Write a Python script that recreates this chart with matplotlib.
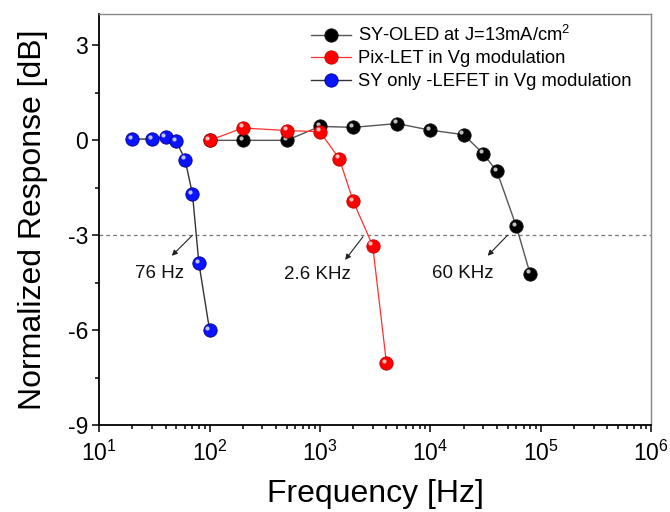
import matplotlib
matplotlib.use("Agg")
import matplotlib.pyplot as plt
import matplotlib.transforms as mtransforms
from matplotlib.ticker import FixedLocator, LogLocator, NullFormatter

plt.rcParams["font.family"] = ["Liberation Sans", "DejaVu Sans"]
plt.rcParams["mathtext.fontset"] = "custom"
plt.rcParams["mathtext.rm"] = "Liberation Sans"
plt.rcParams["mathtext.it"] = "Liberation Sans"
plt.rcParams["axes.unicode_minus"] = False

# frequency response data (Hz, dB)
oled_freq = [100, 200, 500, 1000, 2000, 5000, 1e4, 2e4, 3e4, 4e4, 6e4, 8e4]
oled_db = [0.0, 0.0, 0.0, 0.44, 0.41, 0.53, 0.32, 0.18, -0.42, -0.98, -2.72, -4.22]

pixlet_freq = [100, 200, 500, 1000, 1500, 2000, 3000, 4000]
pixlet_db = [0.0, 0.39, 0.31, 0.27, -0.59, -1.93, -3.33, -7.05]

lefet_freq = [20, 30, 40, 50, 60, 70, 80, 100]
lefet_db = [0.04, 0.04, 0.10, -0.03, -0.61, -1.70, -3.88, -6.0]

labels = ["SY-OLED at J=13mA/cm$^{2}$", "Pix-LET in Vg modulation",
          "SY only -LEFET in Vg modulation"]

# -3 dB cutoff annotations: (text, arrow start, arrow end, text centre)
cutoffs = [
    ("76 Hz", (70, -3.0), (45.5, -3.65), (35, -4.22)),
    ("2.6 KHz", (2450, -3.05), (1690, -3.78), (950, -4.25)),
    ("60 KHz", (50000, -3.0), (33000, -3.65), (19700, -4.21)),
]

fig = plt.figure(figsize=(6.7, 5.12), dpi=100)
ax = fig.add_axes([0.148, 0.170, 0.824, 0.803])


def ball_series(x, y, line_col, face, edge, lw, label, z):
    line, = ax.plot(x, y, color=line_col, lw=lw, marker="o", ms=9.6,
                    mfc=face, mec=edge, mew=0.6, label=label, zorder=z)
    # small specular highlight to mimic the shaded spheres
    hl = mtransforms.offset_copy(ax.transData, fig=fig, x=-1.6, y=1.8, units="points")
    ax.plot(x, y, ls="none", marker="o", ms=3.0, mfc="white", mec="none",
            alpha=0.75, transform=hl, zorder=z + 0.1)
    return line


h1 = ball_series(oled_freq, oled_db, "#555555", "black", "#111111", 1.0, labels[0], 3)
h2 = ball_series(pixlet_freq, pixlet_db, "#ff3030", "#ff0000", "#c00000", 0.9, labels[1], 4)
h3 = ball_series(lefet_freq, lefet_db, "#333333", "#0a14ff", "#00008a", 1.0, labels[2], 5)

ax.axhline(-3, color="#777777", lw=0.9, ls=(0, (3, 2.5)), zorder=1)

for txt, start, end, centre in cutoffs:
    ax.annotate("", xy=end, xytext=start,
                arrowprops=dict(arrowstyle="-|>", color="#222222", lw=0.8,
                                mutation_scale=8, shrinkA=0, shrinkB=0))
    ax.text(centre[0], centre[1], txt, fontsize=13.5, ha="center", va="center",
            color="#111111")

ax.set_xscale("log")
ax.set_xlim(10, 1e6)
ax.set_ylim(-9, 4)
ax.yaxis.set_major_locator(FixedLocator([-9, -6, -3, 0, 3]))
ax.yaxis.set_minor_locator(FixedLocator([-7.5, -4.5, -1.5, 1.5]))
ax.xaxis.set_major_locator(LogLocator(base=10, numticks=10))
ax.xaxis.set_minor_locator(LogLocator(base=10, subs=range(2, 10), numticks=20))
ax.xaxis.set_minor_formatter(NullFormatter())

ax.tick_params(which="both", direction="out", top=False, right=False, width=1.1)
ax.tick_params(which="major", length=5)
ax.tick_params(which="minor", length=3)
ax.tick_params(axis="y", labelsize=16.5, pad=3)
ax.tick_params(axis="x", labelsize=16.5, pad=6)

for side in ("left", "bottom"):
    ax.spines[side].set_linewidth(1.3)
    ax.spines[side].set_color("black")
for side in ("top", "right"):
    ax.spines[side].set_linewidth(1.0)
    ax.spines[side].set_color("#888888")

ax.set_xlabel("Frequency [Hz]", fontsize=23, labelpad=10)
ax.set_ylabel("Normalized Response [dB]", fontsize=23, labelpad=14)

ax.legend(handles=[h1, h2, h3], loc="upper left", bbox_to_anchor=(0.364, 1.0),
          frameon=False, fontsize=13.2, handlelength=2.2, handletextpad=0.35,
          labelspacing=0.3, borderaxespad=0.2)

fig.savefig("out.png", dpi=100)
